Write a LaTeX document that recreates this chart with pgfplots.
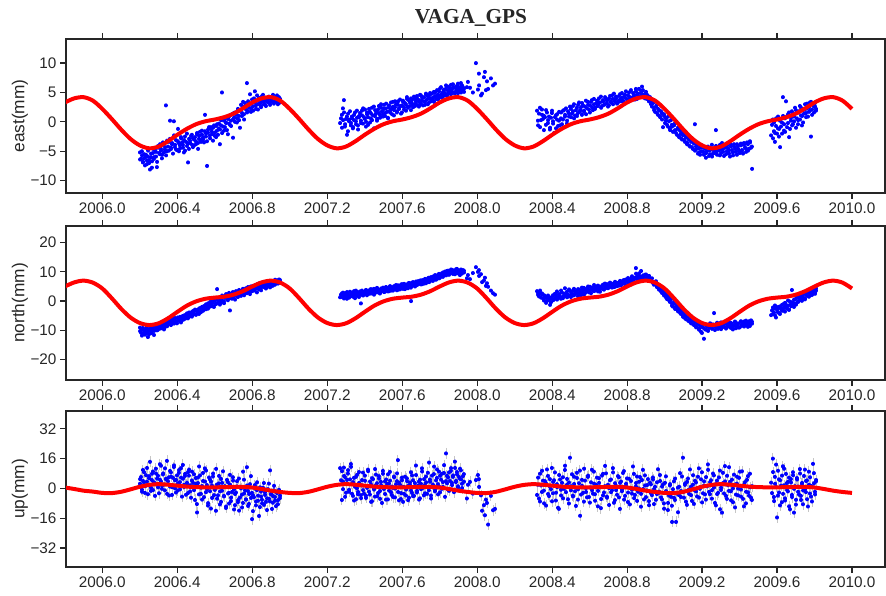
\documentclass[border=0pt]{standalone}
\usepackage{fontspec}
\setmainfont{Liberation Sans}
\newfontfamily\titlefont{Liberation Serif}
\usepackage{pgfplots}
\usepackage{pgfplotstable}
\pgfplotsset{compat=1.18}

\pgfplotstableread{
t e n u
2006.200 -5.2 -9.1 2.5
2006.206 -6.3 -10.8 6.1
2006.212 -5.7 -9.6 -1.8
2006.218 -6.8 -11.2 4.0
2006.224 -5.5 -9.9 8.7
2006.230 -6.1 -10.5 1.2
2006.236 -7.2 -8.8 3.6
2006.242 -5.9 -12.3 -3.1
2006.248 -6.5 -10.1 5.5
2006.254 -8.1 -9.4 14.3
2006.260 -5.4 -11.0 0.4
2006.266 -6.7 -9.7 7.9
2006.272 -4.6 -8.6 -0.9
2006.278 -6.0 -10.2 3.3
2006.284 -5.1 -9.0 10.6
2006.290 -7.7 -8.1 2.0
2006.296 -4.4 -9.8 6.8
2006.302 -5.3 -8.4 -2.6
2006.308 -3.8 -7.9 4.7
2006.314 -4.9 -9.3 12.2
2006.320 -5.6 -8.0 1.5
2006.326 -3.9 -7.2 8.1
2006.332 -4.7 -8.9 -1.0
2006.338 2.8 -7.5 5.2
2006.344 -5.0 -8.3 14.8
2006.350 -4.2 -6.8 3.9
2006.356 -3.4 -7.7 -3.8
2006.362 0.2 -6.4 9.4
2006.368 -4.6 -7.9 6.3
2006.374 -3.6 -6.1 0.7
2006.380 0.1 -7.3 11.5
2006.386 -4.3 -5.8 4.4
2006.392 -3.1 -6.9 -2.2
2006.398 -4.8 -7.6 7.0
2006.404 -1.2 -5.9 2.8
2006.410 -3.7 -6.6 9.9
2006.416 -4.5 -5.4 -0.5
2006.422 -2.8 -6.9 5.8
2006.428 -3.9 -5.1 12.6
2006.434 -5.2 -6.2 1.9
2006.440 -2.5 -4.8 6.7
2006.446 -3.4 -5.7 -3.4
2006.452 -4.1 -4.2 3.1
2006.458 -6.9 -5.5 8.8
2006.464 -2.9 -3.9 10.1
2006.470 -3.6 -4.6 -1.6
2006.476 -2.2 -5.3 4.3
2006.482 -4.3 -3.6 0.9
2006.488 -3.0 -4.4 7.6
2006.494 -2.6 -2.9 -6.2
2006.500 -3.8 -4.7 2.4
2006.506 -1.9 -3.3 -12.9
2006.512 -4.6 -4.0 5.9
2006.518 -2.4 -2.6 11.8
2006.524 -3.1 -3.8 -2.9
2006.530 -1.5 -2.2 1.3
2006.536 -2.7 -3.1 8.3
2006.542 -3.5 -1.7 -4.7
2006.548 1.2 -2.7 3.7
2006.554 -2.0 -1.1 9.6
2006.560 -7.5 -2.4 -0.3
2006.566 -1.3 -0.8 -7.9
2006.572 -2.3 -1.9 4.9
2006.578 -0.9 0.6 -10.8
2006.584 -1.7 -1.4 1.6
2006.590 -3.2 -0.3 6.4
2006.596 -0.6 -2.0 -3.6
2006.602 -1.8 0.4 0.2
2006.608 -2.6 -0.9 10.5
2006.614 -0.4 4.1 -5.5
2006.620 -1.1 0.1 2.7
2006.626 -3.8 -1.2 -8.6
2006.632 0.3 0.9 5.1
2006.638 5.0 -0.4 -1.2
2006.644 -0.8 1.5 9.2
2006.650 -1.5 -0.7 -4.3
2006.656 0.6 1.2 0.8
2006.662 -0.2 2.4 -9.7
2006.668 -2.1 0.3 3.4
2006.674 0.9 1.7 -2.4
2006.680 -0.5 -3.2 7.3
2006.686 0.2 2.1 -6.8
2006.692 1.3 0.8 -1.9
2006.698 -2.7 1.9 4.2
2006.704 0.7 2.6 -11.3
2006.710 1.6 0.5 -3.0
2006.716 -0.1 3.0 1.1
2006.722 2.2 1.4 -7.4
2006.728 1.0 2.3 5.3
2006.734 -1.0 3.5 -4.9
2006.740 2.9 1.8 0.0
2006.746 1.5 2.9 -10.2
2006.752 3.4 4.2 9.0
2006.758 0.4 2.0 -2.7
2006.764 2.6 3.6 -6.0
2006.770 6.6 2.7 11.4
2006.776 1.8 4.5 -1.4
2006.782 3.0 3.1 -8.3
2006.788 4.7 2.4 2.3
2006.794 2.3 4.9 -5.1
2006.800 3.8 3.4 -16.5
2006.806 1.9 5.2 -3.8
2006.812 5.2 3.9 1.8
2006.818 2.8 4.6 -9.1
2006.824 3.6 3.0 -0.9
2006.830 2.1 5.8 -6.6
2006.836 4.1 4.0 -14.8
2006.842 3.2 5.1 0.6
2006.848 2.5 3.7 -4.4
2006.854 4.4 6.0 -8.0
2006.860 3.0 4.8 2.9
2006.866 3.7 5.5 -2.1
2006.872 2.7 4.3 -7.2
2006.878 4.0 6.2 -11.6
2006.884 3.3 5.0 -0.4
2006.890 3.9 5.9 -5.6
2006.896 2.9 4.7 9.7
2006.902 3.5 6.4 -3.3
2006.908 4.2 5.3 -7.7
2006.914 3.1 6.8 -1.0
2006.920 3.8 5.6 -4.6
2006.926 3.4 6.3 -9.5
2006.932 4.5 7.1 -2.5
2006.938 3.6 6.0 -6.3
2006.944 3.2 7.4 -0.8
2006.950 3.9 6.6 -3.9
2007.270 -0.2 1.3 10.9
2007.276 1.2 2.6 -6.2
2007.282 2.3 1.8 3.8
2007.288 3.7 0.9 11.2
2007.294 -0.8 2.4 6.1
2007.300 0.5 1.5 -2.3
2007.306 -2.2 3.1 4.6
2007.312 1.4 2.0 9.8
2007.318 0.1 1.2 -0.7
2007.324 -0.6 2.9 13.1
2007.330 0.9 1.7 2.4
2007.336 -1.1 2.2 -4.0
2007.342 0.3 3.4 5.7
2007.348 1.6 1.0 0.9
2007.354 -0.4 2.5 -5.8
2007.360 0.7 2.0 7.3
2007.366 -1.3 3.0 -1.9
2007.372 1.0 2.3 3.0
2007.378 0.2 -0.8 -3.6
2007.384 1.9 3.6 1.6
2007.390 -0.3 2.1 8.5
2007.396 0.8 3.0 -2.8
2007.402 2.1 2.6 4.1
2007.408 0.0 3.8 -5.1
2007.414 1.3 2.4 0.3
2007.420 -0.5 3.3 9.3
2007.426 1.7 2.7 -3.3
2007.432 0.6 4.1 2.2
2007.438 2.4 2.9 -6.9
2007.444 1.1 3.5 5.0
2007.450 -1.1 2.2 -0.6
2007.456 2.0 3.9 10.4
2007.462 1.4 3.0 1.9
2007.468 0.5 4.4 -4.2
2007.474 2.7 3.2 6.6
2007.480 1.2 2.6 -1.4
2007.486 3.0 4.0 3.5
2007.492 1.8 3.4 -7.8
2007.498 0.9 4.6 7.9
2007.504 2.2 3.1 0.5
2007.510 1.5 3.9 -3.0
2007.516 3.1 4.7 4.8
2007.522 0.7 3.3 -5.9
2007.528 2.5 4.2 2.6
2007.534 1.9 5.0 8.9
2007.540 3.3 3.6 -2.0
2007.546 1.3 4.5 1.0
2007.552 2.6 3.8 -4.6
2007.558 2.0 5.1 6.0
2007.564 3.5 4.3 -0.1
2007.570 1.6 3.7 3.9
2007.576 2.9 5.4 15.2
2007.582 2.3 4.6 -6.4
2007.588 3.8 4.0 2.0
2007.594 1.4 5.6 -2.5
2007.600 2.8 4.8 4.4
2007.606 3.4 4.2 -7.2
2007.612 2.1 5.9 0.7
2007.618 3.0 4.9 -3.8
2007.624 4.2 5.3 5.4
2007.630 2.4 4.4 1.3
2007.636 3.6 6.2 -5.0
2007.642 2.7 5.0 3.2
2007.648 4.0 0.0 -1.1
2007.654 3.1 5.7 7.0
2007.660 2.5 6.5 -4.1
2007.666 3.9 5.2 2.9
2007.672 3.2 6.0 12.3
2007.678 4.4 5.5 -2.2
2007.684 2.8 6.8 1.5
2007.690 3.7 5.9 -6.0
2007.696 4.6 6.4 4.7
2007.702 3.0 7.1 -0.4
2007.708 4.1 5.8 9.1
2007.714 3.5 6.7 -3.7
2007.720 2.9 7.4 1.8
2007.726 4.8 6.1 6.4
2007.732 3.8 7.0 -2.9
2007.738 4.3 7.8 0.6
2007.744 3.3 6.5 13.9
2007.750 4.9 7.5 3.6
2007.756 4.0 8.2 -5.4
2007.762 3.6 6.9 2.1
2007.768 5.1 7.7 7.7
2007.774 4.4 8.6 -1.6
2007.780 3.9 7.3 4.3
2007.786 5.4 8.1 10.2
2007.792 4.6 9.0 -3.2
2007.798 4.1 7.8 1.0
2007.804 5.7 8.7 6.8
2007.810 4.8 9.5 -0.2
2007.816 4.3 8.3 3.4
2007.822 5.5 9.2 8.3
2007.828 4.9 10.1 -4.5
2007.834 6.2 8.8 18.8
2007.840 4.6 9.6 2.7
2007.846 5.3 10.4 5.9
2007.852 5.9 9.0 -1.3
2007.858 4.7 9.9 9.4
2007.864 5.6 10.7 3.0
2007.870 6.4 9.3 6.2
2007.876 5.0 10.2 -2.0
2007.882 5.8 9.7 11.0
2007.888 5.2 10.9 4.1
2007.894 6.1 9.5 7.5
2007.900 4.9 10.3 0.4
2007.906 5.7 8.9 5.2
2007.912 6.6 10.0 9.7
2007.918 5.4 9.4 2.5
2007.924 5.9 10.6 6.6
2007.930 5.1 9.8 3.6
2007.943 5.9 7.8 -5.4
2007.962 5.8 7.5 3.5
2007.992 10.0 11.6 4.5
2008.003 5.5 10.0 7.2
2008.012 6.2 8.6 0.8
2008.020 4.5 9.2 -3.7
2008.035 7.6 7.0 -9.0
2008.040 8.5 8.0 -14.4
2008.045 5.4 5.2 -6.0
2008.060 5.6 4.9 -19.4
2008.085 6.2 2.7 -11.7
2008.320 1.9 3.4 -3.5
2008.327 -0.6 2.1 5.8
2008.334 2.4 3.0 -7.0
2008.341 0.3 1.2 1.6
2008.348 1.2 2.6 9.5
2008.355 -1.4 0.2 -1.2
2008.362 0.8 1.7 3.9
2008.369 2.0 -0.6 -9.2
2008.376 -0.2 1.4 6.7
2008.383 0.9 0.4 -4.1
2008.390 -1.0 -1.3 0.8
2008.397 1.5 1.0 11.0
2008.404 0.1 2.0 -2.6
2008.411 -1.9 0.6 4.4
2008.418 1.1 1.8 -6.5
2008.425 0.4 3.3 2.3
2008.432 -0.7 1.1 -10.4
2008.439 1.7 2.4 7.2
2008.446 0.6 0.8 -0.7
2008.453 -0.4 2.9 3.0
2008.460 1.9 1.5 -5.3
2008.467 0.9 4.4 9.9
2008.474 2.3 2.2 -2.0
2008.481 0.2 1.3 5.1
2008.488 1.4 3.7 -8.1
2008.495 2.6 2.0 16.5
2008.502 0.8 3.1 1.2
2008.509 1.8 1.9 -3.9
2008.516 3.0 4.2 6.3
2008.523 1.1 2.6 -1.5
2008.530 2.4 3.5 8.4
2008.537 1.5 1.7 -6.0
2008.544 3.3 3.9 2.8
2008.551 2.0 2.4 -14.7
2008.558 1.2 4.6 4.6
2008.565 2.8 3.0 -2.4
2008.572 1.7 2.2 10.6
2008.579 3.6 4.1 0.1
2008.586 2.3 3.3 -4.8
2008.593 2.9 5.0 6.9
2008.600 1.6 3.6 -7.6
2008.607 3.4 2.7 3.3
2008.614 2.5 4.5 -0.9
2008.621 3.9 3.4 9.0
2008.628 2.2 4.9 -3.1
2008.635 3.1 3.8 1.9
2008.642 2.7 5.3 -9.6
2008.649 4.0 4.0 5.5
2008.656 3.3 3.2 0.6
2008.663 2.4 4.7 -5.7
2008.670 3.7 5.6 7.8
2008.677 2.9 3.9 -2.2
2008.684 4.2 4.8 12.1
2008.691 3.2 5.8 -4.4
2008.698 2.6 4.4 2.0
2008.705 3.9 5.2 -8.9
2008.712 3.4 6.1 4.8
2008.719 4.5 4.6 -1.0
2008.726 3.0 5.5 8.6
2008.733 3.8 4.9 -6.3
2008.740 4.3 6.3 1.4
2008.747 3.1 5.1 -3.4
2008.754 3.6 5.9 6.0
2008.761 4.7 6.7 -11.0
2008.768 3.5 5.4 3.7
2008.775 4.1 6.4 -0.5
2008.782 3.2 7.2 9.3
2008.789 4.6 5.7 -4.0
2008.796 4.0 6.8 2.5
2008.803 3.4 7.5 -7.3
2008.810 5.0 6.0 5.2
2008.817 4.2 7.0 0.3
2008.824 3.7 8.1 -2.8
2008.831 4.9 6.6 11.8
2008.838 4.4 7.7 -5.2
2008.845 5.6 11.3 1.1
2008.852 3.9 8.4 6.4
2008.859 4.8 7.1 -1.8
2008.866 4.3 9.5 3.6
2008.873 5.3 8.0 -9.8
2008.880 6.0 7.4 4.5
2008.887 4.5 8.8 -0.3
2008.894 4.0 7.8 7.0
2008.901 5.1 9.1 -4.7
2008.908 4.6 7.2 1.8
2008.915 3.5 8.3 -6.8
2008.922 4.2 6.9 3.1
2008.929 3.0 7.6 -2.6
2008.936 3.6 6.2 5.9
2008.943 2.4 5.6 -8.4
2008.950 1.7 6.5 0.9
2008.957 2.9 4.8 -3.0
2008.964 1.2 5.3 10.3
2008.971 2.0 3.9 -1.7
2008.978 0.8 4.4 4.0
2008.985 1.5 2.8 -5.9
2008.992 -0.9 3.5 2.2
2008.999 1.0 1.9 -10.9
2009.006 0.2 2.6 6.5
2009.013 -0.5 0.7 -2.3
2009.020 0.9 1.5 -7.8
2009.027 -1.2 -0.3 1.6
2009.034 0.3 0.6 -4.5
2009.041 -0.8 -1.6 -18.0
2009.048 -1.6 -0.8 3.8
2009.055 -0.2 -2.3 -6.2
2009.062 -1.9 -1.2 -18.0
2009.069 -1.0 -3.0 0.4
2009.076 -2.4 -2.1 -3.6
2009.083 -1.5 -4.0 8.2
2009.090 -2.8 -3.3 -1.4
2009.097 -1.8 -5.1 16.5
2009.104 -3.1 -4.4 -5.0
2009.111 -2.2 -5.9 2.7
2009.118 -3.5 -4.8 -8.8
2009.125 -2.6 -6.6 5.3
2009.132 -4.0 -5.5 -2.9
2009.139 -3.0 -7.2 0.9
2009.146 -4.3 -6.4 -6.7
2009.153 -3.4 -7.9 7.1
2009.160 -0.4 -6.8 -1.1
2009.167 -4.7 -8.6 3.2
2009.174 -3.8 -7.4 -4.3
2009.181 -5.2 -9.3 10.8
2009.188 -4.1 -8.1 -0.2
2009.195 -5.0 -10.5 4.9
2009.202 -4.4 -8.8 -7.5
2009.209 -5.6 -12.9 1.5
2009.216 -4.6 -9.6 -3.2
2009.223 -5.3 -8.3 6.1
2009.230 -4.2 -9.9 12.9
2009.237 -5.8 -8.7 -1.9
2009.244 -4.8 -7.6 3.4
2009.251 -3.9 -9.2 -5.5
2009.258 -5.4 -8.0 8.0
2009.265 -4.5 -4.1 0.5
2009.272 -1.4 -8.9 -9.1
2009.279 -5.0 -7.7 4.2
2009.286 -4.3 -9.5 -2.4
2009.293 -5.7 -8.2 9.6
2009.300 -4.7 -7.3 -0.8
2009.307 -3.6 -9.0 -13.0
2009.314 -5.1 -8.4 2.9
2009.321 -4.4 -7.6 12.0
2009.328 -5.5 -9.4 -4.0
2009.335 -4.0 -8.1 6.8
2009.342 -4.9 -7.1 -1.3
2009.349 -5.9 -8.8 3.5
2009.356 -4.2 -7.5 -6.4
2009.363 -5.2 -9.7 0.0
2009.370 -3.8 -8.3 7.4
2009.377 -4.6 -7.0 -10.2
2009.384 -5.6 -8.6 2.6
2009.391 -4.1 -7.8 -3.7
2009.398 -5.0 -9.1 5.7
2009.405 -3.7 -6.9 -0.6
2009.412 -4.8 -8.0 9.2
2009.419 -5.4 -7.4 -5.6
2009.426 -3.9 -8.7 1.9
2009.433 -4.5 -6.7 -8.0
2009.440 -3.5 -7.9 4.6
2009.447 -4.9 -7.2 -2.1
2009.454 -3.3 -8.5 7.9
2009.461 -4.4 -6.6 -4.9
2009.468 -8.0 -7.7 1.2
2009.570 -2.3 -4.8 3.1
2009.576 0.4 -2.2 16.0
2009.582 -1.6 -3.9 -4.6
2009.588 -3.4 -1.5 6.2
2009.594 -0.7 -5.6 0.8
2009.600 -2.0 -3.0 -15.6
2009.606 0.9 -2.4 9.5
2009.612 -1.2 -4.1 -2.2
2009.618 -4.3 -1.8 4.4
2009.624 -0.1 -3.3 -7.4
2009.630 4.2 -2.6 11.9
2009.636 -1.5 -0.9 1.7
2009.642 0.6 -3.6 -5.3
2009.648 3.5 -1.4 7.8
2009.654 -0.9 -2.0 -0.9
2009.660 1.3 0.2 3.6
2009.666 -2.6 -2.9 -9.6
2009.672 0.2 -1.1 5.0
2009.678 1.8 3.8 -3.5
2009.684 -0.4 -0.5 8.7
2009.690 0.9 -2.0 -13.0
2009.696 2.4 0.6 1.2
2009.702 -1.0 -1.2 -6.1
2009.708 1.5 1.4 4.8
2009.714 0.3 -0.3 -1.8
2009.720 2.7 0.9 10.4
2009.726 1.1 2.0 -4.0
2009.732 -0.6 0.1 2.4
2009.738 2.0 1.7 -8.5
2009.744 1.4 2.8 6.7
2009.750 3.0 0.8 -0.4
2009.756 0.8 2.2 4.0
2009.762 2.3 3.4 -5.8
2009.768 1.7 1.5 9.0
2009.774 3.3 2.7 -2.7
2009.780 -2.5 3.9 1.4
2009.786 2.1 2.1 -7.0
2009.792 2.9 3.1 13.2
2009.798 1.6 4.2 2.8
2009.804 2.6 2.5 -3.2
2009.810 2.2 3.6 4.5
}\gps

\pgfplotstableread{
t e n u
2006.203 -6.4 -10.3 5.0
2006.209 -5.0 -11.8 -0.6
2006.215 -6.9 -9.2 9.9
2006.221 -6.2 -10.7 3.2
2006.227 -7.4 -11.5 -2.4
2006.233 -5.6 -9.5 7.1
2006.239 -6.6 -10.9 11.0
2006.245 -4.9 -9.9 1.9
2006.251 -7.0 -11.3 6.6
2006.257 -6.0 -8.9 -1.3
2006.263 -7.8 -10.4 4.5
2006.269 -5.3 -9.1 9.1
2006.275 -6.3 -11.6 2.7
2006.281 -4.8 -8.4 -4.0
2006.287 -5.9 -9.6 8.0
2006.293 -6.8 -10.0 5.3
2006.299 -4.1 -8.7 0.6
2006.305 -5.5 -9.4 13.0
2006.311 -4.6 -7.6 3.8
2006.317 -6.2 -8.8 -0.2
2006.323 -3.5 -7.8 7.5
2006.329 -5.2 -9.7 2.1
2006.335 -4.3 -8.1 10.8
2006.341 -5.7 -7.0 4.9
2006.347 -3.2 -8.6 -2.9
2006.353 -4.9 -7.4 6.0
2006.359 -2.9 -6.5 1.0
2006.365 -4.4 -8.2 8.6
2006.371 -3.8 -7.1 -3.5
2006.377 -5.4 -6.3 5.7
2006.383 -2.3 -7.7 12.4
2006.389 -3.9 -6.0 0.0
2006.395 -4.7 -7.2 4.6
2006.401 -3.3 -5.6 -1.1
2006.407 -5.0 -6.7 8.4
2006.413 -4.0 -5.9 3.4
2006.419 -2.6 -7.3 10.9
2006.425 -3.5 -5.3 -4.4
2006.431 -4.4 -6.4 5.2
2006.437 -3.1 -5.0 0.8
2006.443 -4.9 -6.0 7.8
2006.449 -2.0 -4.6 2.2
2006.455 -3.7 -5.9 -2.5
2006.461 -4.6 -4.3 6.9
2006.467 -3.2 -5.2 1.7
2006.473 -2.4 -3.9 -5.0
2006.479 -3.9 -4.9 9.0
2006.485 -2.8 -3.4 3.0
2006.491 -4.0 -4.5 -0.9
2006.497 -3.3 -3.1 5.6
2006.503 -2.1 -4.2 -8.4
2006.509 -3.6 -3.0 2.9
2006.515 -2.9 -4.4 -3.2
2006.521 -1.7 -2.4 7.0
2006.527 -3.4 -3.5 0.4
2006.533 -2.2 -2.0 -6.0
2006.539 -3.0 -3.3 4.0
2006.545 -1.6 -1.9 10.8
2006.551 -2.5 -2.8 -2.0
2006.557 -3.3 -1.4 1.8
2006.563 -1.8 -2.6 -9.2
2006.569 -0.9 -1.2 5.9
2006.575 -2.8 -0.4 -1.5
2006.581 -1.2 -1.7 3.6
2006.587 -2.1 -0.6 -5.1
2006.593 -1.0 -1.8 8.0
2006.599 -2.4 0.2 -0.8
2006.605 -0.7 -1.0 -12.0
2006.611 -1.5 0.9 2.1
2006.617 -2.2 -0.5 -3.7
2006.623 -0.3 1.1 6.7
2006.629 -1.3 -0.2 -1.6
2006.635 -0.6 0.6 -7.2
2006.641 -1.9 1.9 3.0
2006.647 0.2 0.0 -4.0
2006.653 -0.9 1.3 1.2
2006.659 -0.1 2.0 -10.5
2006.665 -1.4 0.8 4.6
2006.671 0.5 1.6 -2.7
2006.677 -0.3 2.8 -8.1
2006.683 1.1 1.0 2.0
2006.689 -0.7 1.8 -4.9
2006.695 0.4 3.1 6.0
2006.701 1.5 1.5 -0.6
2006.707 0.0 2.4 -9.0
2006.713 1.2 3.4 -2.2
2006.719 0.6 1.9 3.9
2006.725 1.8 2.9 -6.3
2006.731 0.3 3.8 -11.9
2006.737 2.0 2.5 0.9
2006.743 1.0 3.3 -3.4
2006.749 2.6 4.1 -7.8
2006.755 1.3 2.6 4.7
2006.761 3.2 3.9 -1.0
2006.767 2.1 4.4 -5.9
2006.773 1.6 3.2 1.6
2006.779 3.5 4.8 -9.4
2006.785 2.4 3.7 -3.0
2006.791 1.7 5.0 6.6
2006.797 3.1 4.1 -2.4
2006.803 2.6 4.6 -12.2
2006.809 4.0 3.6 -4.7
2006.815 3.3 5.4 -0.1
2006.821 2.2 4.4 -7.0
2006.827 4.5 5.7 3.3
2006.833 3.0 4.9 -3.9
2006.839 3.8 6.2 -10.0
2006.845 2.7 4.5 -1.7
2006.851 3.5 5.6 -6.1
2006.857 4.6 6.4 0.4
2006.863 3.4 5.1 -8.8
2006.869 2.9 6.0 -3.5
2006.875 3.9 5.3 -0.6
2006.881 3.5 6.6 -5.3
2006.887 4.3 5.7 2.6
2006.893 3.2 6.9 -7.0
2006.899 4.0 6.1 -2.8
2006.905 3.7 5.2 -11.0
2006.911 4.6 6.7 -4.1
2006.917 3.3 6.0 1.4
2006.923 4.1 7.3 -6.6
2006.929 3.7 6.5 -2.0
2006.935 3.0 7.0 -8.5
2006.941 4.2 6.3 -1.5
2006.947 3.8 7.2 -5.2
2007.273 0.6 2.2 4.4
2007.279 -1.0 1.4 9.3
2007.285 0.3 2.9 -0.4
2007.291 1.6 1.6 6.7
2007.297 -0.4 2.7 -4.5
2007.303 0.9 0.8 2.6
2007.309 -1.6 2.1 8.0
2007.315 0.4 1.3 -1.8
2007.321 1.8 3.2 4.9
2007.327 -0.2 1.9 11.6
2007.333 0.6 2.8 -2.9
2007.339 -0.9 1.5 3.4
2007.345 1.2 2.3 -6.5
2007.351 0.1 3.6 6.2
2007.357 1.9 1.8 0.1
2007.363 -0.6 2.6 -3.1
2007.369 0.8 1.4 8.8
2007.375 1.5 3.3 2.0
2007.381 -0.2 2.2 -5.2
2007.387 1.1 3.1 4.5
2007.393 2.3 1.9 -0.9
2007.399 0.5 2.8 6.9
2007.405 -0.8 3.7 -3.9
2007.411 1.6 2.0 1.1
2007.417 0.8 3.2 10.1
2007.423 2.2 2.5 -1.7
2007.429 -0.1 3.9 3.7
2007.435 1.4 2.6 -7.2
2007.441 0.3 3.3 5.5
2007.447 2.6 4.2 0.0
2007.453 1.0 2.8 -4.4
2007.459 1.8 3.6 7.4
2007.465 0.2 4.5 2.8
2007.471 2.1 3.0 -2.5
2007.477 1.5 3.8 5.3
2007.483 0.7 2.9 -5.6
2007.489 2.4 4.3 1.7
2007.495 1.3 3.5 9.4
2007.501 2.9 4.1 -0.3
2007.507 1.0 3.2 3.8
2007.513 2.3 4.8 -6.0
2007.519 1.7 3.7 2.4
2007.525 0.6 4.4 7.6
2007.531 2.8 3.4 -1.2
2007.537 1.6 5.1 4.2
2007.543 2.2 4.0 -3.6
2007.549 3.4 3.6 0.3
2007.555 1.1 4.9 6.4
2007.561 2.5 4.2 -4.8
2007.567 3.0 5.5 2.2
2007.573 1.8 4.5 8.1
2007.579 3.5 3.9 -1.9
2007.585 2.2 5.2 3.1
2007.591 2.7 4.4 -5.7
2007.597 1.6 5.8 5.8
2007.603 3.6 4.6 0.9
2007.609 2.5 5.4 -2.9
2007.615 3.2 4.1 6.3
2007.621 1.9 5.6 -0.6
2007.627 3.9 4.8 3.9
2007.633 2.6 6.0 -6.3
2007.639 3.3 5.2 1.9
2007.645 2.0 4.6 8.7
2007.651 3.7 6.3 -2.4
2007.657 2.9 5.4 4.4
2007.663 4.3 6.1 -4.0
2007.669 2.7 5.0 1.0
2007.675 3.5 6.7 7.2
2007.681 4.0 5.6 -1.3
2007.687 2.6 6.3 3.6
2007.693 3.3 7.0 -5.3
2007.699 4.5 5.7 2.5
2007.705 3.6 6.6 10.8
2007.711 2.8 7.2 0.3
2007.717 4.2 6.0 5.0
2007.723 3.4 7.6 -2.6
2007.729 4.7 6.4 3.3
2007.735 3.0 7.3 8.4
2007.741 4.0 8.0 -1.0
2007.747 4.6 6.8 4.8
2007.753 3.5 7.9 -3.8
2007.759 4.8 7.2 6.9
2007.765 4.1 8.4 1.5
2007.771 3.4 7.5 11.7
2007.777 5.0 8.9 -0.8
2007.783 4.3 7.6 5.6
2007.789 3.8 8.5 2.3
2007.795 5.2 9.3 9.0
2007.801 4.5 8.0 -2.1
2007.807 5.9 9.1 4.7
2007.813 4.1 8.6 7.9
2007.819 5.1 9.8 0.8
2007.825 4.7 8.9 12.5
2007.831 5.6 9.4 3.9
2007.837 4.4 10.3 6.8
2007.843 6.0 9.1 -0.6
2007.849 5.0 10.0 8.6
2007.855 5.4 9.5 4.0
2007.861 6.3 10.8 10.9
2007.867 5.1 9.6 1.8
2007.873 5.8 10.5 7.0
2007.879 4.8 9.2 14.4
2007.885 6.0 10.1 3.4
2007.891 5.5 11.0 8.8
2007.897 6.5 9.8 1.2
2007.903 5.3 10.5 6.1
2007.909 5.9 9.6 10.6
2007.915 5.0 10.8 4.9
2007.921 6.2 9.9 0.2
2007.927 5.6 10.4 7.7
2007.950 6.8 8.9 2.0
2007.975 5.0 9.6 -2.8
2008.008 8.2 10.6 5.0
2008.027 4.8 6.5 -12.0
2008.052 6.9 6.1 -7.8
2008.072 7.4 3.6 -4.0
2008.095 6.5 2.2 -11.0
2008.323 0.2 2.8 2.0
2008.330 1.4 1.6 -5.4
2008.337 -0.9 3.6 7.9
2008.344 2.1 2.3 -1.9
2008.351 0.5 0.9 4.2
2008.358 1.0 2.0 -8.0
2008.365 -0.5 1.1 2.9
2008.372 1.6 0.0 10.2
2008.379 0.3 1.9 -3.0
2008.386 -1.3 0.8 5.0
2008.393 0.7 -0.4 -0.4
2008.400 1.9 1.5 -6.9
2008.407 -0.3 0.3 3.5
2008.414 0.8 2.5 8.6
2008.421 -1.1 1.2 -2.3
2008.428 1.3 0.5 0.7
2008.435 0.2 2.2 -11.0
2008.442 -0.6 1.6 4.8
2008.449 1.6 3.6 -3.8
2008.456 0.4 1.0 6.0
2008.463 2.0 2.6 -0.2
2008.470 1.2 1.8 12.2
2008.477 -0.3 3.2 1.9
2008.484 1.8 2.1 -5.8
2008.491 0.9 4.0 3.2
2008.498 2.2 1.4 -1.0
2008.505 1.4 2.7 7.6
2008.512 2.7 3.7 -4.3
2008.519 0.6 2.0 2.4
2008.526 2.0 3.3 -9.4
2008.533 1.0 2.6 5.6
2008.540 2.9 4.1 -0.5
2008.547 1.7 3.0 9.6
2008.554 2.5 2.0 -3.3
2008.561 3.2 3.8 1.4
2008.568 1.9 4.5 -7.1
2008.575 2.6 2.7 4.2
2008.582 1.3 3.6 -1.9
2008.589 3.4 4.4 6.2
2008.596 2.1 3.0 -4.6
2008.603 2.8 4.9 0.5
2008.610 3.7 3.9 10.0
2008.617 2.0 4.2 -2.8
2008.624 3.0 5.5 2.6
2008.631 2.4 3.6 -6.6
2008.638 3.6 4.4 5.8
2008.645 2.9 3.3 -1.3
2008.652 3.3 5.0 3.0
2008.659 4.3 4.3 -10.6
2008.666 2.7 5.2 6.9
2008.673 3.5 4.1 -3.7
2008.680 3.0 6.0 1.2
2008.687 4.0 4.5 8.1
2008.694 3.6 5.4 -5.0
2008.701 2.8 4.7 0.2
2008.708 4.4 6.3 4.4
2008.715 3.3 5.0 -2.0
2008.722 3.9 5.9 10.9
2008.729 4.8 4.8 -7.7
2008.736 3.5 6.6 2.8
2008.743 4.0 5.6 -0.9
2008.750 3.3 6.2 6.6
2008.757 4.4 5.3 -4.8
2008.764 3.8 6.9 3.0
2008.771 4.9 6.0 -1.5
2008.778 3.6 7.0 8.3
2008.785 4.3 6.3 -6.0
2008.792 5.2 7.4 1.3
2008.799 3.8 6.6 5.4
2008.806 4.5 7.9 -2.2
2008.813 4.0 6.4 -8.6
2008.820 5.4 7.6 4.0
2008.827 4.1 8.5 -0.7
2008.834 4.7 7.3 7.8
2008.841 3.8 8.0 -3.5
2008.848 5.2 9.4 2.9
2008.855 4.6 7.7 -6.7
2008.862 5.6 8.7 0.0
2008.869 4.2 7.9 6.1
2008.876 4.9 10.3 -2.9
2008.883 5.4 8.2 10.0
2008.890 4.3 7.6 -5.9
2008.897 4.8 9.0 1.6
2008.904 3.9 8.0 -1.1
2008.911 4.4 7.5 5.0
2008.918 3.7 8.6 -9.0
2008.925 3.3 7.1 2.2
2008.932 2.6 7.8 -3.6
2008.939 3.2 6.6 4.8
2008.946 2.0 5.9 -0.3
2008.953 2.6 6.8 -6.1
2008.960 1.5 5.0 3.3
2008.967 2.2 4.6 -2.6
2008.974 1.0 5.1 7.2
2008.981 1.8 3.3 -4.8
2008.988 0.4 3.9 1.0
2008.995 1.3 2.3 -8.0
2009.002 -0.2 2.9 3.0
2009.009 0.6 1.2 -1.4
2009.016 -0.8 2.0 -11.6
2009.023 0.1 0.3 -3.8
2009.030 -1.4 1.0 2.3
2009.037 -0.5 -0.8 -9.3
2009.044 -1.7 -1.9 -0.4
2009.051 -0.6 -0.3 -5.1
2009.058 -1.4 -2.7 5.3
2009.065 -2.2 -1.6 -2.8
2009.072 -1.2 -3.5 -12.8
2009.079 -2.6 -2.6 0.9
2009.086 -2.0 -4.4 -4.6
2009.093 -3.0 -3.6 6.4
2009.100 -2.3 -5.4 -2.0
2009.107 -3.4 -4.7 1.9
2009.114 -2.7 -6.2 -7.1
2009.121 -3.8 -5.2 3.5
2009.128 -3.0 -6.9 -0.6
2009.135 -4.2 -6.0 10.2
2009.142 -3.4 -7.6 -3.6
2009.149 -4.6 -6.6 2.0
2009.156 -3.7 -8.2 -8.3
2009.163 -4.9 -7.1 4.1
2009.170 -4.2 -9.0 -1.6
2009.177 -5.4 -7.8 6.3
2009.184 -4.5 -9.8 -4.9
2009.191 -5.6 -8.4 0.7
2009.198 -4.0 -10.9 8.7
2009.205 -5.1 -9.1 -2.6
2009.212 -4.3 -8.0 3.8
2009.219 -6.1 -9.8 -6.0
2009.226 -5.0 -8.6 1.1
2009.233 -4.4 -10.2 10.0
2009.240 -5.5 -9.0 -3.1
2009.247 -4.6 -7.9 4.4
2009.254 -5.9 -9.5 -0.9
2009.261 -4.9 -8.3 7.0
2009.268 -5.3 -9.9 -7.8
2009.275 -4.1 -8.5 2.3
2009.282 -5.6 -7.4 -3.0
2009.289 -4.8 -9.0 5.9
2009.296 -3.9 -8.1 -11.2
2009.303 -5.3 -9.6 0.4
2009.310 -4.6 -7.8 8.4
2009.317 -5.8 -8.8 -2.7
2009.324 -4.1 -7.3 3.8
2009.331 -5.0 -9.0 -5.6
2009.338 -4.5 -8.3 1.7
2009.345 -5.4 -7.6 11.4
2009.352 -3.9 -9.2 -1.5
2009.359 -4.8 -7.9 4.7
2009.366 -5.7 -8.7 -7.4
2009.373 -4.3 -7.2 2.1
2009.380 -5.1 -9.3 -3.3
2009.387 -3.8 -8.0 6.3
2009.394 -4.6 -7.6 -0.1
2009.401 -5.3 -8.9 9.0
2009.408 -4.0 -7.1 -4.4
2009.415 -4.9 -8.4 1.3
2009.422 -3.6 -7.0 -9.6
2009.429 -4.4 -8.2 3.4
2009.436 -5.1 -7.5 -1.8
2009.443 -3.8 -8.8 6.6
2009.450 -4.6 -6.9 -3.9
2009.457 -3.5 -7.8 0.6
2009.464 -4.2 -7.0 -6.2
2009.573 -0.5 -3.2 -2.5
2009.579 -2.8 -4.4 8.8
2009.585 -0.1 -2.6 -6.8
2009.591 -1.9 -4.9 2.5
2009.597 0.6 -1.9 12.8
2009.603 -1.1 -3.8 -3.9
2009.609 -2.5 -2.0 4.9
2009.615 0.2 -4.4 -9.1
2009.621 -0.8 -2.7 1.5
2009.627 -2.0 -1.3 6.9
2009.633 1.0 -3.2 -2.9
2009.639 -0.4 -2.2 10.6
2009.645 -1.7 -0.6 -6.5
2009.651 0.9 -2.6 2.9
2009.657 -0.2 -1.5 -1.6
2009.663 1.6 -3.0 5.8
2009.669 -1.2 -0.2 -11.2
2009.675 0.7 -1.7 3.2
2009.681 -0.6 -0.4 -4.6
2009.687 1.4 -1.6 7.1
2009.693 0.1 0.5 -0.2
2009.699 2.0 -0.8 -8.7
2009.705 0.6 1.1 5.6
2009.711 -0.4 -0.1 1.0
2009.717 1.8 1.6 -3.3
2009.723 0.4 0.3 8.0
2009.729 2.4 2.2 -6.2
2009.735 1.0 1.0 3.0
2009.741 -0.1 2.5 -1.1
2009.747 2.1 0.6 10.1
2009.753 1.5 3.0 -2.0
2009.759 3.1 1.8 4.3
2009.765 0.9 2.6 -9.7
2009.771 2.5 3.6 2.0
2009.777 1.9 1.9 6.0
2009.783 3.4 3.2 -4.4
2009.789 1.2 2.4 0.9
2009.795 2.6 4.0 8.2
2009.801 3.2 3.0 -1.8
2009.807 1.9 4.4 3.7
}\gpsb

\pgfplotstableread{
t e n u
2005.80 3.3 5.0 0.5
2005.85 4.0 6.4 -0.3
2005.90 4.2 7.0 -1.2
2005.95 3.6 6.3 -1.7
2006.00 2.2 4.3 -2.4
2006.05 0.5 1.0 -2.5
2006.10 -1.3 -2.6 -1.8
2006.15 -2.9 -5.6 -0.5
2006.20 -4.0 -7.5 0.9
2006.25 -4.5 -8.2 1.9
2006.30 -4.2 -7.6 2.3
2006.35 -3.3 -5.9 2.0
2006.40 -2.2 -3.7 1.5
2006.45 -1.2 -1.6 1.0
2006.50 -0.4 -0.1 0.7
2006.55 0.1 0.8 0.6
2006.60 0.4 1.2 0.6
2006.65 0.8 1.5 0.7
2006.70 1.4 2.2 0.8
2006.75 2.3 3.4 0.8
2006.80 3.3 5.0 0.5
2006.85 4.0 6.4 -0.3
2006.90 4.2 7.0 -1.2
2006.95 3.6 6.3 -1.9
2007.00 2.2 4.3 -2.4
2007.05 0.5 1.0 -2.5
2007.10 -1.3 -2.6 -1.8
2007.15 -2.9 -5.6 -0.5
2007.20 -4.0 -7.5 0.9
2007.25 -4.5 -8.2 1.9
2007.30 -4.2 -7.6 2.3
2007.35 -3.3 -5.9 2.0
2007.40 -2.2 -3.7 1.5
2007.45 -1.2 -1.6 1.0
2007.50 -0.4 -0.1 0.7
2007.55 0.1 0.8 0.6
2007.60 0.4 1.2 0.6
2007.65 0.8 1.5 0.7
2007.70 1.4 2.2 0.8
2007.75 2.3 3.4 0.8
2007.80 3.3 5.0 0.5
2007.85 4.0 6.4 -0.3
2007.90 4.2 7.0 -1.2
2007.95 3.6 6.3 -1.9
2008.00 2.2 4.3 -2.4
2008.05 0.5 1.0 -2.5
2008.10 -1.3 -2.6 -1.8
2008.15 -2.9 -5.6 -0.5
2008.20 -4.0 -7.5 0.9
2008.25 -4.5 -8.2 1.9
2008.30 -4.2 -7.6 2.3
2008.35 -3.3 -5.9 2.0
2008.40 -2.2 -3.7 1.5
2008.45 -1.2 -1.6 1.0
2008.50 -0.4 -0.1 0.7
2008.55 0.1 0.8 0.6
2008.60 0.4 1.2 0.6
2008.65 0.8 1.5 0.7
2008.70 1.4 2.2 0.8
2008.75 2.3 3.4 0.8
2008.80 3.3 5.0 0.5
2008.85 4.0 6.4 -0.3
2008.90 4.2 7.0 -1.2
2008.95 3.6 6.3 -1.9
2009.00 2.2 4.3 -2.4
2009.05 0.5 1.0 -2.5
2009.10 -1.3 -2.6 -1.8
2009.15 -2.9 -5.6 -0.5
2009.20 -4.0 -7.5 0.9
2009.25 -4.5 -8.2 1.9
2009.30 -4.2 -7.6 2.3
2009.35 -3.3 -5.9 2.0
2009.40 -2.2 -3.7 1.5
2009.45 -1.2 -1.6 1.0
2009.50 -0.4 -0.1 0.7
2009.55 0.1 0.8 0.6
2009.60 0.4 1.2 0.6
2009.65 0.8 1.5 0.7
2009.70 1.4 2.2 0.8
2009.75 2.3 3.4 0.8
2009.80 3.3 5.0 0.5
2009.85 4.0 6.4 -0.3
2009.90 4.2 7.0 -1.2
2009.95 3.6 6.3 -1.9
2010.00 2.2 4.3 -2.4
}\fit

\pgfplotsset{
  panel/.style={
    scale only axis, width=819pt, anchor=south west,
    clip marker paths=true,
    xmin=2005.806, xmax=2010.176,
    xtick={2006.0,2006.4,2006.8,2007.2,2007.6,2008.0,2008.4,2008.8,2009.2,2009.6,2010.0},
    xticklabels={2006.0,2006.4,2006.8,2007.2,2007.6,2008.0,2008.4,2008.8,2009.2,2009.6,2010.0},
    xtick pos=both, ytick pos=left,
    tick align=outside, major tick length=6pt,
    every tick/.style={black!85, line width=1.2pt},
    axis line style={black!85, line width=1.6pt},
    tick label style={font=\fontsize{15.3}{18}\selectfont, text=black!85},
    every axis y label/.style={at={(axis description cs:-0.0562,0.5)}, rotate=90, anchor=center,
      font=\fontsize{17.3}{20}\selectfont, text=black!85},
  },
  ebar/.style={only marks, mark=|, mark size=#1, color=gray!45,
    mark options={line width=0.6pt}},
  pts/.style={only marks, mark=|, mark size=0.05pt, color=blue,
    mark options={line width=4pt, line cap=round}},
  fitline/.style={red, line width=4pt, smooth, no marks},
}

\begin{document}
\begin{tikzpicture}
\useasboundingbox (0,0) rectangle (886pt,596pt);
\node[font=\titlefont\bfseries\fontsize{21.3}{24}\selectfont, text=black!85] at (471pt,578pt) {VAGA\_GPS};

\begin{axis}[panel, at={(66pt,403pt)}, height=154pt,
  ymin=-12.1, ymax=14.1, ytick={-10,-5,0,5,10}, yticklabels={−10,−5,0,5,10},
  ylabel={east(mm)}]
\addplot[pts] table[x=t, y=e] {\gps};
\addplot[pts] table[x=t, y=e] {\gpsb};
\addplot[fitline] table[x=t, y=e] {\fit};
\end{axis}

\begin{axis}[panel, at={(66pt,216pt)}, height=154pt,
  ymin=-27, ymax=25.7, ytick={-20,-10,0,10,20}, yticklabels={−20,−10,0,10,20},
  ylabel={north(mm)}]
\addplot[pts] table[x=t, y=n] {\gps};
\addplot[pts] table[x=t, y=n] {\gpsb};
\addplot[fitline] table[x=t, y=n] {\fit};
\end{axis}

\begin{axis}[panel, at={(66pt,29pt)}, height=156pt,
  ymin=-42.2, ymax=41.6, ytick={-32,-16,0,16,32}, yticklabels={−32,−16,0,16,32},
  ylabel={up(mm)}]
\addplot[ebar=5.5pt] table[x=t, y=u] {\gps};
\addplot[ebar=5.5pt] table[x=t, y=u] {\gpsb};
\addplot[pts] table[x=t, y=u] {\gps};
\addplot[pts] table[x=t, y=u] {\gpsb};
\addplot[fitline] table[x=t, y=u] {\fit};
\end{axis}
\end{tikzpicture}
\end{document}
